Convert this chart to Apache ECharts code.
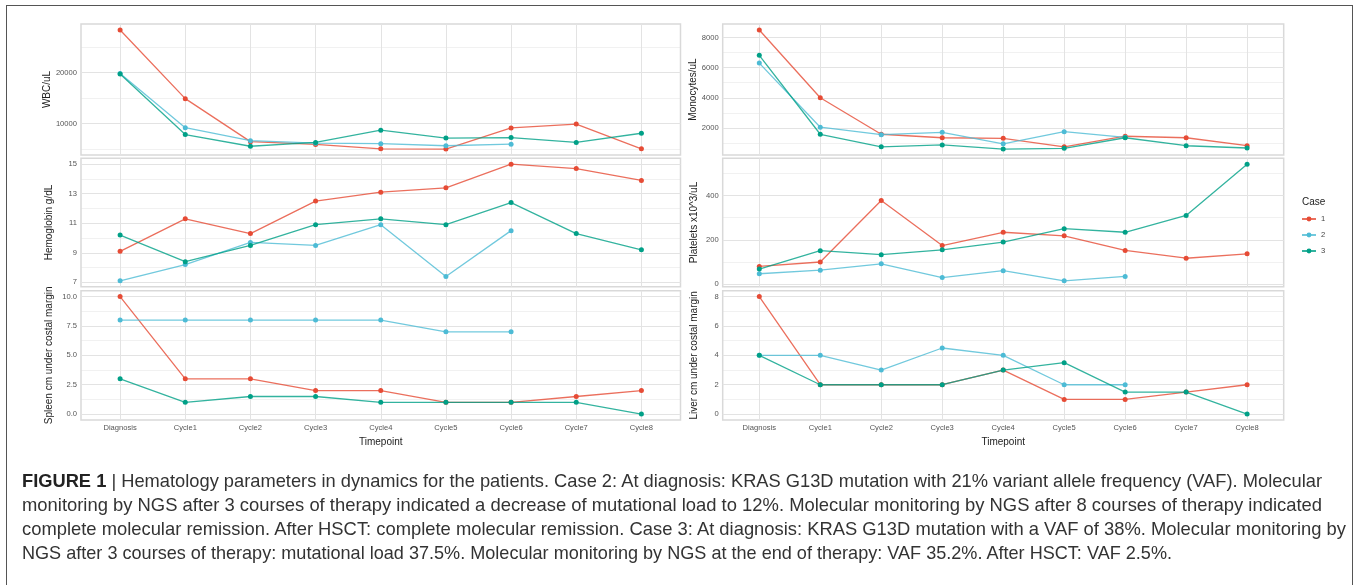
<!DOCTYPE html>
<html><head><meta charset="utf-8">
<script src="https://cdn.jsdelivr.net/npm/echarts@6/dist/echarts.min.js"></script>
<style>
html,body{margin:0;padding:0;background:#fff;}
#wrap{position:relative;width:1357px;height:585px;overflow:hidden;background:#fff;}
#chart{position:absolute;left:0;top:0;width:1357px;height:585px;}
#frame{position:absolute;left:6px;top:5px;width:1347px;height:620px;border:1.5px solid #555;box-sizing:border-box;pointer-events:none;}
.cap{position:absolute;left:22px;white-space:nowrap;font-family:"Liberation Sans",Arial,sans-serif;font-size:18.5px;line-height:20px;color:#333;transform-origin:0 50%;}
.cap b{font-weight:bold;color:#222;}
</style></head>
<body>
<div id="wrap">
<div id="chart"></div>
<div id="frame"></div>
<div class="cap" id="cap1" data-w="1300" style="top:471px"><b>FIGURE 1</b> | Hematology parameters in dynamics for the patients. Case 2: At diagnosis: KRAS G13D mutation with 21% variant allele frequency (VAF). Molecular</div>
<div class="cap" id="cap2" data-w="1300" style="top:495px">monitoring by NGS after 3 courses of therapy indicated a decrease of mutational load to 12%. Molecular monitoring by NGS after 8 courses of therapy indicated</div>
<div class="cap" id="cap3" data-w="1324" style="top:519px">complete molecular remission. After HSCT: complete molecular remission. Case 3: At diagnosis: KRAS G13D mutation with a VAF of 38%. Molecular monitoring by</div>
<div class="cap" id="cap4" data-w="1150" style="top:543px">NGS after 3 courses of therapy: mutational load 37.5%. Molecular monitoring by NGS at the end of therapy: VAF 35.2%. After HSCT: VAF 2.5%.</div>
</div>
<script>
// ---------- data ----------
const categories = ['Diagnosis','Cycle1','Cycle2','Cycle3','Cycle4','Cycle5','Cycle6','Cycle7','Cycle8'];
const caseNames = ['1','2','3'];

const wbcCase1 = [28400,14900,6450,5900,5050,5000,9150,9900,5050];
const wbcCase2 = [19850,9200,6650,6150,6050,5650,5950];
const wbcCase3 = [19750,7850,5550,6300,8700,7150,7250,6300,8100];

const monoCase1 = [8500,4000,1580,1350,1310,750,1450,1350,820];
const monoCase2 = [6300,2050,1550,1710,950,1750,1380];
const monoCase3 = [6820,1580,750,870,600,650,1350,820,670];

const hbCase1 = [9.1,11.3,10.3,12.5,13.1,13.4,15.0,14.7,13.9];
const hbCase2 = [7.1,8.2,9.7,9.5,10.9,7.4,10.5];
const hbCase3 = [10.2,8.4,9.5,10.9,11.3,10.9,12.4,10.3,9.2];

const pltCase1 = [80,100,377,174,234,218,152,117,137];
const pltCase2 = [47,63,92,30,61,15,35];
const pltCase3 = [68,151,133,155,190,250,234,310,541];

const spleenCase1 = [10,3,3,2,2,1,1,1.5,2];
const spleenCase2 = [8,8,8,8,8,7,7];
const spleenCase3 = [3,1,1.5,1.5,1,1,1,1,0];

const liverCase1 = [8,2,2,2,3,1,1,1.5,2];
const liverCase2 = [4,4,3,4.5,4,2,2];
const liverCase3 = [4,2,2,2,3,3.5,1.5,1.5,0];

const wbcTicks = [10000,20000];           const wbcMinor = [5000,15000,25000];
const monoTicks = [2000,4000,6000,8000];  const monoMinor = [1000,3000,5000,7000];
const hbTicks = [7,9,11,13,15];           const hbMinor = [8,10,12,14];
const pltTicks = [0,200,400];             const pltMinor = [100,300,500];
const spleenTicks = [0,2.5,5,7.5,10];     const spleenMinor = [1.25,3.75,6.25,8.75];
const liverTicks = [0,2,4,6,8];           const liverMinor = [1,3,5,7];

// ---------- styles ----------
const caseColors = ['#E64B35','#4DBBD5','#00A087'];
const FONT = '"Liberation Sans", Arial, sans-serif';

const panels = [
  {name:'WBC/uL', data:[wbcCase1,wbcCase2,wbcCase3], ticks:wbcTicks, minor:wbcMinor, fmt:v=>String(v), col:0, row:0},
  {name:'Monocytes/uL', data:[monoCase1,monoCase2,monoCase3], ticks:monoTicks, minor:monoMinor, fmt:v=>String(v), col:1, row:0},
  {name:'Hemoglobin g/dL', data:[hbCase1,hbCase2,hbCase3], ticks:hbTicks, minor:hbMinor, fmt:v=>String(v), col:0, row:1},
  {name:'Platelets x10^3/uL', data:[pltCase1,pltCase2,pltCase3], ticks:pltTicks, minor:pltMinor, fmt:v=>String(v), col:1, row:1},
  {name:'Spleen cm under costal margin', data:[spleenCase1,spleenCase2,spleenCase3], ticks:spleenTicks, minor:spleenMinor, fmt:v=>v.toFixed(1), col:0, row:2},
  {name:'Liver cm under costal margin', data:[liverCase1,liverCase2,liverCase3], ticks:liverTicks, minor:liverMinor, fmt:v=>String(v), col:1, row:2}
];

const colLeft = [81, 722.7], colWidth = [599.5, 561];
const rowTop = [24, 158.3, 290.7], rowHeight = [131, 128.4, 129.3];
const catIdx = categories.map((c,i)=>i);

const grids=[], xAxes=[], yAxes=[], series=[];
panels.forEach((p,k)=>{
  grids.push({left:colLeft[p.col], top:rowTop[p.row], width:colWidth[p.col], height:rowHeight[p.row],
    show:true, borderColor:'#d9d9d9', borderWidth:1.5, backgroundColor:'transparent', containLabel:false, outerBoundsMode:'none'});
  const all = [].concat(...p.data);
  const dmin = Math.min(...all), dmax = Math.max(...all), r = dmax-dmin;
  const ymin = dmin-0.05*r, ymax = dmax+0.05*r;
  const bottom = p.row===2;
  xAxes.push({type:'value', gridIndex:k, min:-0.6, max:8.6,
    axisLine:{show:false}, axisTick:{show:false, customValues:catIdx},
    axisLabel:{show:bottom, customValues:catIdx, formatter:v=>categories[Math.round(v)], fontSize:7.6, color:'#555', fontFamily:FONT, margin:4},
    splitLine:{show:true, lineStyle:{color:'#e3e3e3', width:1}},
    name: bottom?'Timepoint':'', nameLocation:'middle', nameGap:17,
    nameTextStyle:{fontSize:10, color:'#222', fontFamily:FONT}});
  yAxes.push({type:'value', gridIndex:k, min:ymin, max:ymax,
    axisLine:{show:false}, axisTick:{show:false, customValues:p.ticks},
    axisLabel:{customValues:p.ticks, formatter:p.fmt, fontSize:7.6, color:'#555', fontFamily:FONT, margin:4},
    splitLine:{show:true, lineStyle:{color:'#e3e3e3', width:1}},
    name:p.name, nameLocation:'middle', nameRotate:90, nameGap: p.col===0?27:23,
    nameTextStyle:{fontSize:10, color:'#222', fontFamily:FONT}});
  p.range=[ymin,ymax];
});
panels.forEach((p,k)=>{
  yAxes.push({type:'value', gridIndex:k, min:p.range[0], max:p.range[1], position:'left',
    axisLine:{show:false}, axisTick:{show:false, customValues:p.minor},
    axisLabel:{show:false, customValues:p.minor},
    splitLine:{show:true, lineStyle:{color:'#f1f1f1', width:1}}, z:-1});
});
panels.forEach((p,k)=>{
  p.data.forEach((arr,c)=>{
    series.push({type:'line', name:caseNames[c], xAxisIndex:k, yAxisIndex:k,
      data:arr.map((v,i)=>[i,v]), symbol:'circle', symbolSize:5, showSymbol:true,
      itemStyle:{color:caseColors[c]}, lineStyle:{color:caseColors[c], width:1.3, opacity:0.8},
      emphasis:{disabled:true}, z:2+c});
  });
});

const chart = echarts.init(document.getElementById('chart'), null, {renderer:'canvas'});
chart.setOption({
  animation:false,
  backgroundColor:'#fff',
  title:{text:'Case', left:1297, top:192, textStyle:{fontSize:10, fontWeight:'normal', color:'#222', fontFamily:FONT}},
  legend:{data:caseNames, orient:'vertical', left:1296, top:210, itemWidth:14, itemHeight:6, itemGap:8,
    selectedMode:false, textStyle:{fontSize:7.6, color:'#444', fontFamily:FONT}},
  grid:grids, xAxis:xAxes, yAxis:yAxes, series:series
});

// fit caption lines to their widths
document.querySelectorAll('.cap').forEach(el=>{
  const w = el.getBoundingClientRect().width;
  const target = +el.dataset.w;
  el.style.transform = 'scaleX(' + (target/w) + ')';
});
</script>
</body></html>
